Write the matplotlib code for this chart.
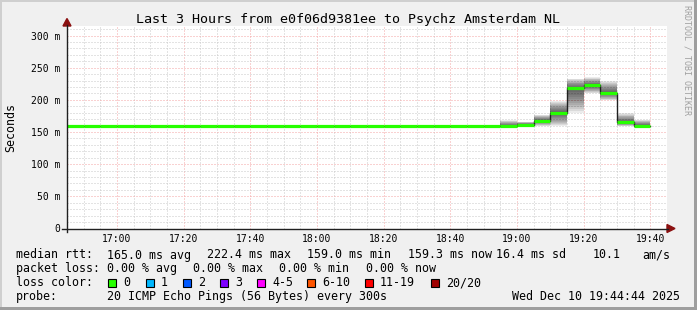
import numpy as np
import pandas as pd
import matplotlib
matplotlib.use("Agg")
import matplotlib.pyplot as plt
import matplotlib.dates as mdates
from matplotlib.lines import Line2D
from matplotlib.patches import Polygon, Rectangle

# ---------------- data ----------------
title = "Last 3 Hours from e0f06d9381ee to Psychz Amsterdam NL"
interval_start = pd.date_range("2025-12-10 16:45", periods=35, freq="5min")
median_ms = [159.0, 159.0, 159.0, 159.0, 159.0, 159.0, 159.0, 159.0, 159.0,
             159.0, 159.0, 159.0, 159.0, 159.0, 159.0, 159.0, 159.0, 159.0,
             159.0, 159.0, 159.0, 159.0, 159.0, 159.0, 159.0, 159.0,
             159.0, 161.5, 167.5, 180.0, 218.0, 222.4, 211.0, 165.0, 159.3]
smoke_lo = [158.5, 158.5, 158.5, 158.5, 158.5, 158.5, 158.5, 158.5, 158.5,
            158.5, 158.5, 158.5, 158.5, 158.5, 158.5, 158.5, 158.5, 158.5,
            158.5, 158.5, 158.5, 158.5, 158.5, 158.5, 158.5, 158.5,
            159.0, 160.0, 159.0, 159.0, 179.0, 210.0, 199.0, 159.0, 159.0]
smoke_hi = [160.0, 160.0, 160.0, 160.0, 160.0, 160.0, 160.0, 160.0, 160.0,
            160.0, 160.0, 160.0, 160.0, 160.0, 160.0, 160.0, 160.0, 160.0,
            160.0, 160.0, 160.0, 160.0, 160.0, 160.0, 160.0, 160.0,
            168.0, 166.0, 177.0, 198.0, 233.0, 235.0, 230.0, 179.0, 169.0]
y_ticks = [0, 50, 100, 150, 200, 250, 300]
y_tick_labels = ["0", "50 m", "100 m", "150 m", "200 m", "250 m", "300 m"]
x_tick_labels = ["17:00", "17:20", "17:40", "18:00", "18:20", "18:40",
                 "19:00", "19:20", "19:40"]
loss_labels = ["0", "1", "2", "3", "4-5", "6-10", "11-19", "20/20"]
loss_colors = ["#26ff00", "#00b8ff", "#0059ff", "#7e00ff", "#ff00ff",
               "#ff5500", "#ff0000", "#a00000"]
stats_line1 = [("median rtt:", 16), ("165.0 ms avg", 107), ("222.4 ms max", 207),
               ("159.0 ms min", 307), ("159.3 ms now", 408), ("16.4 ms sd", 496),
               ("10.1", 593), ("am/s", 642)]
stats_line2 = [("packet loss:", 16), ("0.00 % avg", 107), ("0.00 % max", 193),
               ("0.00 % min", 279), ("0.00 % now", 366)]
probe_text = "20 ICMP Echo Pings (56 Bytes) every 300s"
stamp_text = "Wed Dec 10 19:44:44 2025"

# ---------------- layout ----------------
W, H = 697, 310
MONO = "DejaVu Sans Mono"
fig = plt.figure(figsize=(W / 100, H / 100), dpi=100, facecolor="#F0F0F0")

def fx(px):
    return px / W

def fy(py):
    return 1 - py / H

# 3D frame
fig.add_artist(Rectangle((0, fy(2)), 1, 2 / H, transform=fig.transFigure,
                         facecolor="#CFCFCF", edgecolor="none"))
fig.add_artist(Rectangle((0, 0), 2 / W, 1, transform=fig.transFigure,
                         facecolor="#CFCFCF", edgecolor="none"))
fig.add_artist(Rectangle((0, 0), 1, 3 / H, transform=fig.transFigure,
                         facecolor="#9E9E9E", edgecolor="none"))
fig.add_artist(Rectangle((1 - 3 / W, 0), 3 / W, 1, transform=fig.transFigure,
                         facecolor="#9E9E9E", edgecolor="none"))

ax_left, ax_right, ax_top, ax_bot = 67, 667, 26, 228.5
ax = fig.add_axes([fx(ax_left), fy(ax_bot), (ax_right - ax_left) / W,
                   (ax_bot - ax_top) / H])
ax.set_facecolor("white")
for s in ax.spines.values():
    s.set_visible(False)

t0 = pd.Timestamp("2025-12-10 16:45")
t1 = pd.Timestamp("2025-12-10 19:45")
ax.set_xlim(t0, t1)
ax.set_ylim(0, 314.8)

# grid
minor_c = "#c8c8c8"
major_c = "#f4a4a4"
dash = (0, (1, 2))
ax.xaxis.set_major_locator(mdates.MinuteLocator(byminute=[0, 20, 40]))
ax.xaxis.set_minor_locator(mdates.MinuteLocator(byminute=range(0, 60, 5)))
ax.set_yticks(y_ticks)
ax.set_yticks(np.arange(0, 315, 10), minor=True)
ax.grid(which="minor", color=minor_c, linestyle=dash, linewidth=0.72)
ax.grid(which="major", color=major_c, linestyle=dash, linewidth=0.72)
ax.set_axisbelow(True)

ax.set_xticks(ax.get_xticks())
ax.set_xticklabels(x_tick_labels, fontfamily=MONO, fontsize=7)
ax.set_yticklabels(y_tick_labels, fontfamily=MONO, fontsize=7)
ax.tick_params(which="both", length=0)
ax.tick_params(axis="x", pad=4)
ax.tick_params(axis="y", pad=5)

# smoke
xnum = mdates.date2num(interval_start)
wnum = 5 / (24 * 60)
k = 12
for j in range(k):
    f = (k - j) / k
    lo = [m - (m - l) * f for m, l in zip(median_ms, smoke_lo)]
    hi = [m + (h - m) * f for m, h in zip(median_ms, smoke_hi)]
    ax.bar(xnum, np.array(hi) - np.array(lo), bottom=lo, width=wnum,
           align="edge", color="black", alpha=0.075, linewidth=0, zorder=2)

# median: dark step line + loss-colour segments
edges = list(xnum) + [xnum[-1] + wnum]
ax.step(edges, list(median_ms) + [median_ms[-1]], where="post",
        color="#202020", linewidth=1.0, zorder=3)
ax.hlines(median_ms, xnum, xnum + wnum, colors=loss_colors[0],
          linewidth=2.3, zorder=4)

# axes lines and arrows
axis_c = "#202020"
arrow_c = "#8b1010"
fig.add_artist(Line2D([fx(62), fx(668)], [fy(228.5), fy(228.5)],
                      transform=fig.transFigure, color=axis_c, linewidth=1.0))
fig.add_artist(Line2D([fx(67), fx(67)], [fy(232), fy(25)],
                      transform=fig.transFigure, color=axis_c, linewidth=1.0))
fig.add_artist(Polygon([(fx(667), fy(224.5)), (fx(667), fy(232.5)),
                        (fx(675), fy(228.5))], closed=True,
                       transform=fig.transFigure, color=arrow_c))
fig.add_artist(Polygon([(fx(63), fy(26)), (fx(71), fy(26)),
                        (fx(67), fy(18.5))], closed=True,
                       transform=fig.transFigure, color=arrow_c))

# title and labels
fig.text(fx(348), fy(19), title, ha="center", va="center",
         fontfamily=MONO, fontsize=9.6)
fig.text(fx(11), fy(127), "Seconds", ha="center", va="center",
         rotation=90, fontfamily=MONO, fontsize=8.4)
fig.text(fx(687), fy(5), "RRDTOOL / TOBI OETIKER", ha="center", va="top",
         rotation=270, fontfamily=MONO, fontsize=6, color="#a0a0a0")

# legend / stats
fs = 8.4
for txt, x in stats_line1:
    fig.text(fx(x), fy(255), txt, ha="left", va="center", fontfamily=MONO, fontsize=fs)
for txt, x in stats_line2:
    fig.text(fx(x), fy(268.5), txt, ha="left", va="center", fontfamily=MONO, fontsize=fs)
fig.text(fx(16), fy(282.5), "loss color:", ha="left", va="center",
         fontfamily=MONO, fontsize=fs)
box_x = [108, 146, 183, 220, 257, 307, 365, 431]
for bx, lab, col in zip(box_x, loss_labels, loss_colors):
    fig.add_artist(Rectangle((fx(bx), fy(287)), 8 / W, 8 / H,
                             transform=fig.transFigure, facecolor=col,
                             edgecolor="black", linewidth=0.8))
    fig.text(fx(bx + 15), fy(282.5), lab, ha="left", va="center",
             fontfamily=MONO, fontsize=fs)
fig.text(fx(16), fy(296.5), "probe:", ha="left", va="center",
         fontfamily=MONO, fontsize=fs)
fig.text(fx(107), fy(296.5), probe_text, ha="left", va="center",
         fontfamily=MONO, fontsize=fs)
fig.text(fx(680), fy(296.5), stamp_text, ha="right", va="center",
         fontfamily=MONO, fontsize=fs)

fig.savefig("out.png", dpi=100, facecolor=fig.get_facecolor())
